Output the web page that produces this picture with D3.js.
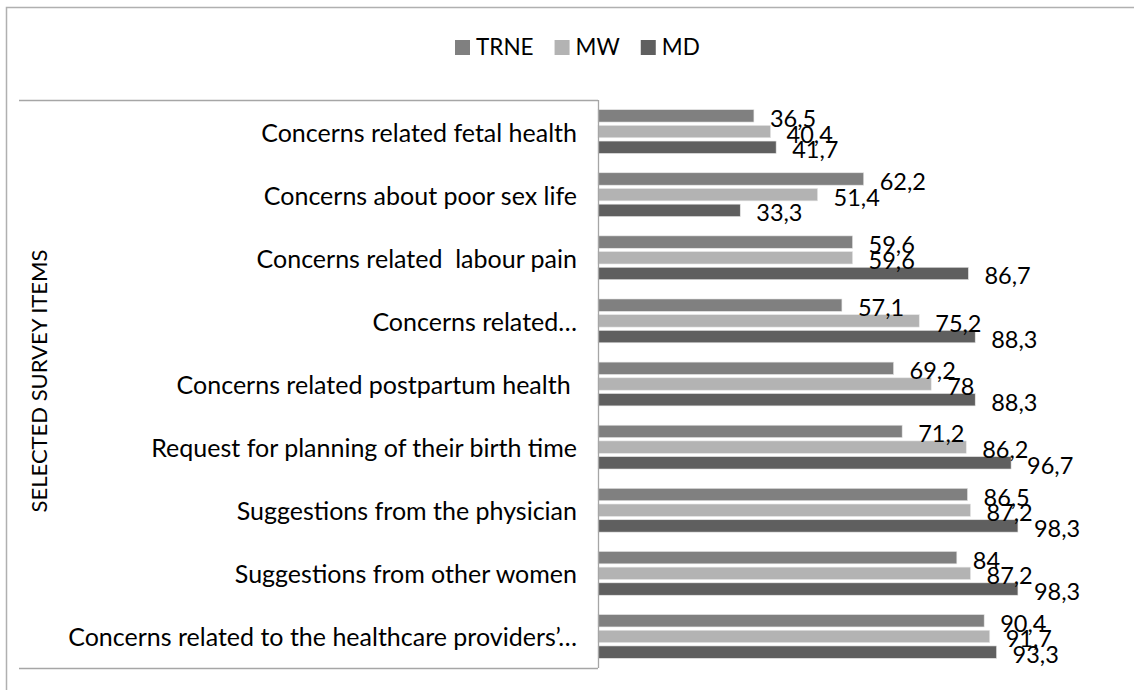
<!DOCTYPE html>
<html>
<head>
<meta charset="utf-8">
<script src="https://cdn.jsdelivr.net/npm/d3@7"></script>
<style>
  html, body { margin: 0; padding: 0; background: #fff; }
  svg { display: block; }
  text { font-family: Lato, "Open Sans", sans-serif; fill: #000; }
</style>
</head>
<body>
<svg id="chart" width="1134" height="690"></svg>
<script>
const categories = [
  "Concerns related fetal health",
  "Concerns about poor sex life",
  "Concerns related  labour pain",
  "Concerns related\u2026",
  "Concerns related postpartum health ",
  "Request for planning of their birth time",
  "Suggestions from the physician",
  "Suggestions from other women",
  "Concerns related to the healthcare providers\u2019\u2026"
];
const seriesNames = ["TRNE", "MW", "MD"];
const TRNE = [36.5, 62.2, 59.6, 57.1, 69.2, 71.2, 86.5, 84, 90.4];
const MW   = [40.4, 51.4, 59.6, 75.2, 78, 86.2, 87.2, 87.2, 91.7];
const MD   = [41.7, 33.3, 86.7, 88.3, 88.3, 96.7, 98.3, 98.3, 93.3];
const colors = ["#808080", "#b3b3b3", "#5f5f5f"];
const axisTitle = "SELECTED SURVEY ITEMS";

const seriesValues = [TRNE, MW, MD];
const rows = categories.map((c, i) => ({
  cat: c,
  vals: seriesNames.map((s, j) => ({ series: s, value: seriesValues[j][i], color: colors[j] }))
}));

const svg = d3.select("#chart");
const fmt = d3.formatLocale({ decimal: ",", thousands: ".", grouping: [3], currency: ["", ""] }).format("~r");

// outer frame
svg.append("rect")
  .attr("x", 6.5).attr("y", 7.5).attr("width", 1140).attr("height", 700)
  .attr("fill", "none").attr("stroke", "#b0b0b0").attr("stroke-width", 1.5);

const plotLeft = 598, plotTop = 100, plotBottom = 668;
const x = d3.scaleLinear().domain([0, 100]).range([plotLeft, plotLeft + 427.2]);
const y0 = d3.scaleBand().domain(categories).range([plotTop, plotBottom]).padding(0);
const y1 = d3.scaleBand().domain(seriesNames).range([0, y0.bandwidth()])
  .paddingInner(0.21).paddingOuter(0.615);

// category label box lines
svg.append("line").attr("x1", 19).attr("x2", plotLeft).attr("y1", plotTop + 0.5).attr("y2", plotTop + 0.5)
  .attr("stroke", "#a6a6a6").attr("stroke-width", 1.3);
svg.append("line").attr("x1", 19).attr("x2", plotLeft).attr("y1", plotBottom + 0.5).attr("y2", plotBottom + 0.5)
  .attr("stroke", "#a6a6a6").attr("stroke-width", 1.3);

// bars
const g = svg.append("g");
const groups = g.selectAll("g.cat").data(rows).join("g")
  .attr("class", "cat")
  .attr("transform", d => `translate(0,${y0(d.cat)})`);

groups.selectAll("rect").data(d => d.vals).join("rect")
  .attr("x", x(0))
  .attr("y", d => y1(d.series))
  .attr("width", d => x(d.value) - x(0))
  .attr("height", y1.bandwidth())
  .attr("fill", d => d.color)
  .attr("stroke", "#e6e6e6").attr("stroke-width", 0.6);

groups.selectAll("text.lbl").data(d => d.vals).join("text")
  .attr("class", "lbl")
  .attr("x", d => x(d.value) + 16)
  .attr("y", d => y1(d.series) + y1.bandwidth() / 2 + 2)
  .attr("dominant-baseline", "central")
  .style("font-size", "23.5px")
  .text(d => fmt(d.value));

// vertical axis line
svg.append("line").attr("x1", plotLeft + 0.5).attr("x2", plotLeft + 0.5).attr("y1", plotTop).attr("y2", plotBottom)
  .attr("stroke", "#a6a6a6").attr("stroke-width", 1.3);

// category labels
svg.append("g").selectAll("text").data(categories).join("text")
  .attr("x", 577)
  .attr("y", d => y0(d) + y0.bandwidth() / 2)
  .attr("text-anchor", "end")
  .attr("dominant-baseline", "central")
  .style("font-size", "25px")
  .style("white-space", "pre")
  .text(d => d);

// axis title
svg.append("text")
  .attr("transform", `translate(47,${(plotTop + plotBottom) / 2 - 3}) rotate(-90)`)
  .attr("text-anchor", "middle")
  .style("font-size", "22px")
  .text(axisTitle);

// legend
const leg = svg.append("g");
let lx = 455;
seriesNames.forEach((s, j) => {
  leg.append("rect").attr("x", lx).attr("y", 40).attr("width", 15).attr("height", 15).attr("fill", colors[j]);
  const t = leg.append("text").attr("x", lx + 21).attr("y", 54.5).style("font-size", "22.5px").text(s);
  lx += 21 + t.node().getComputedTextLength() + 21;
});
</script>
</body>
</html>
